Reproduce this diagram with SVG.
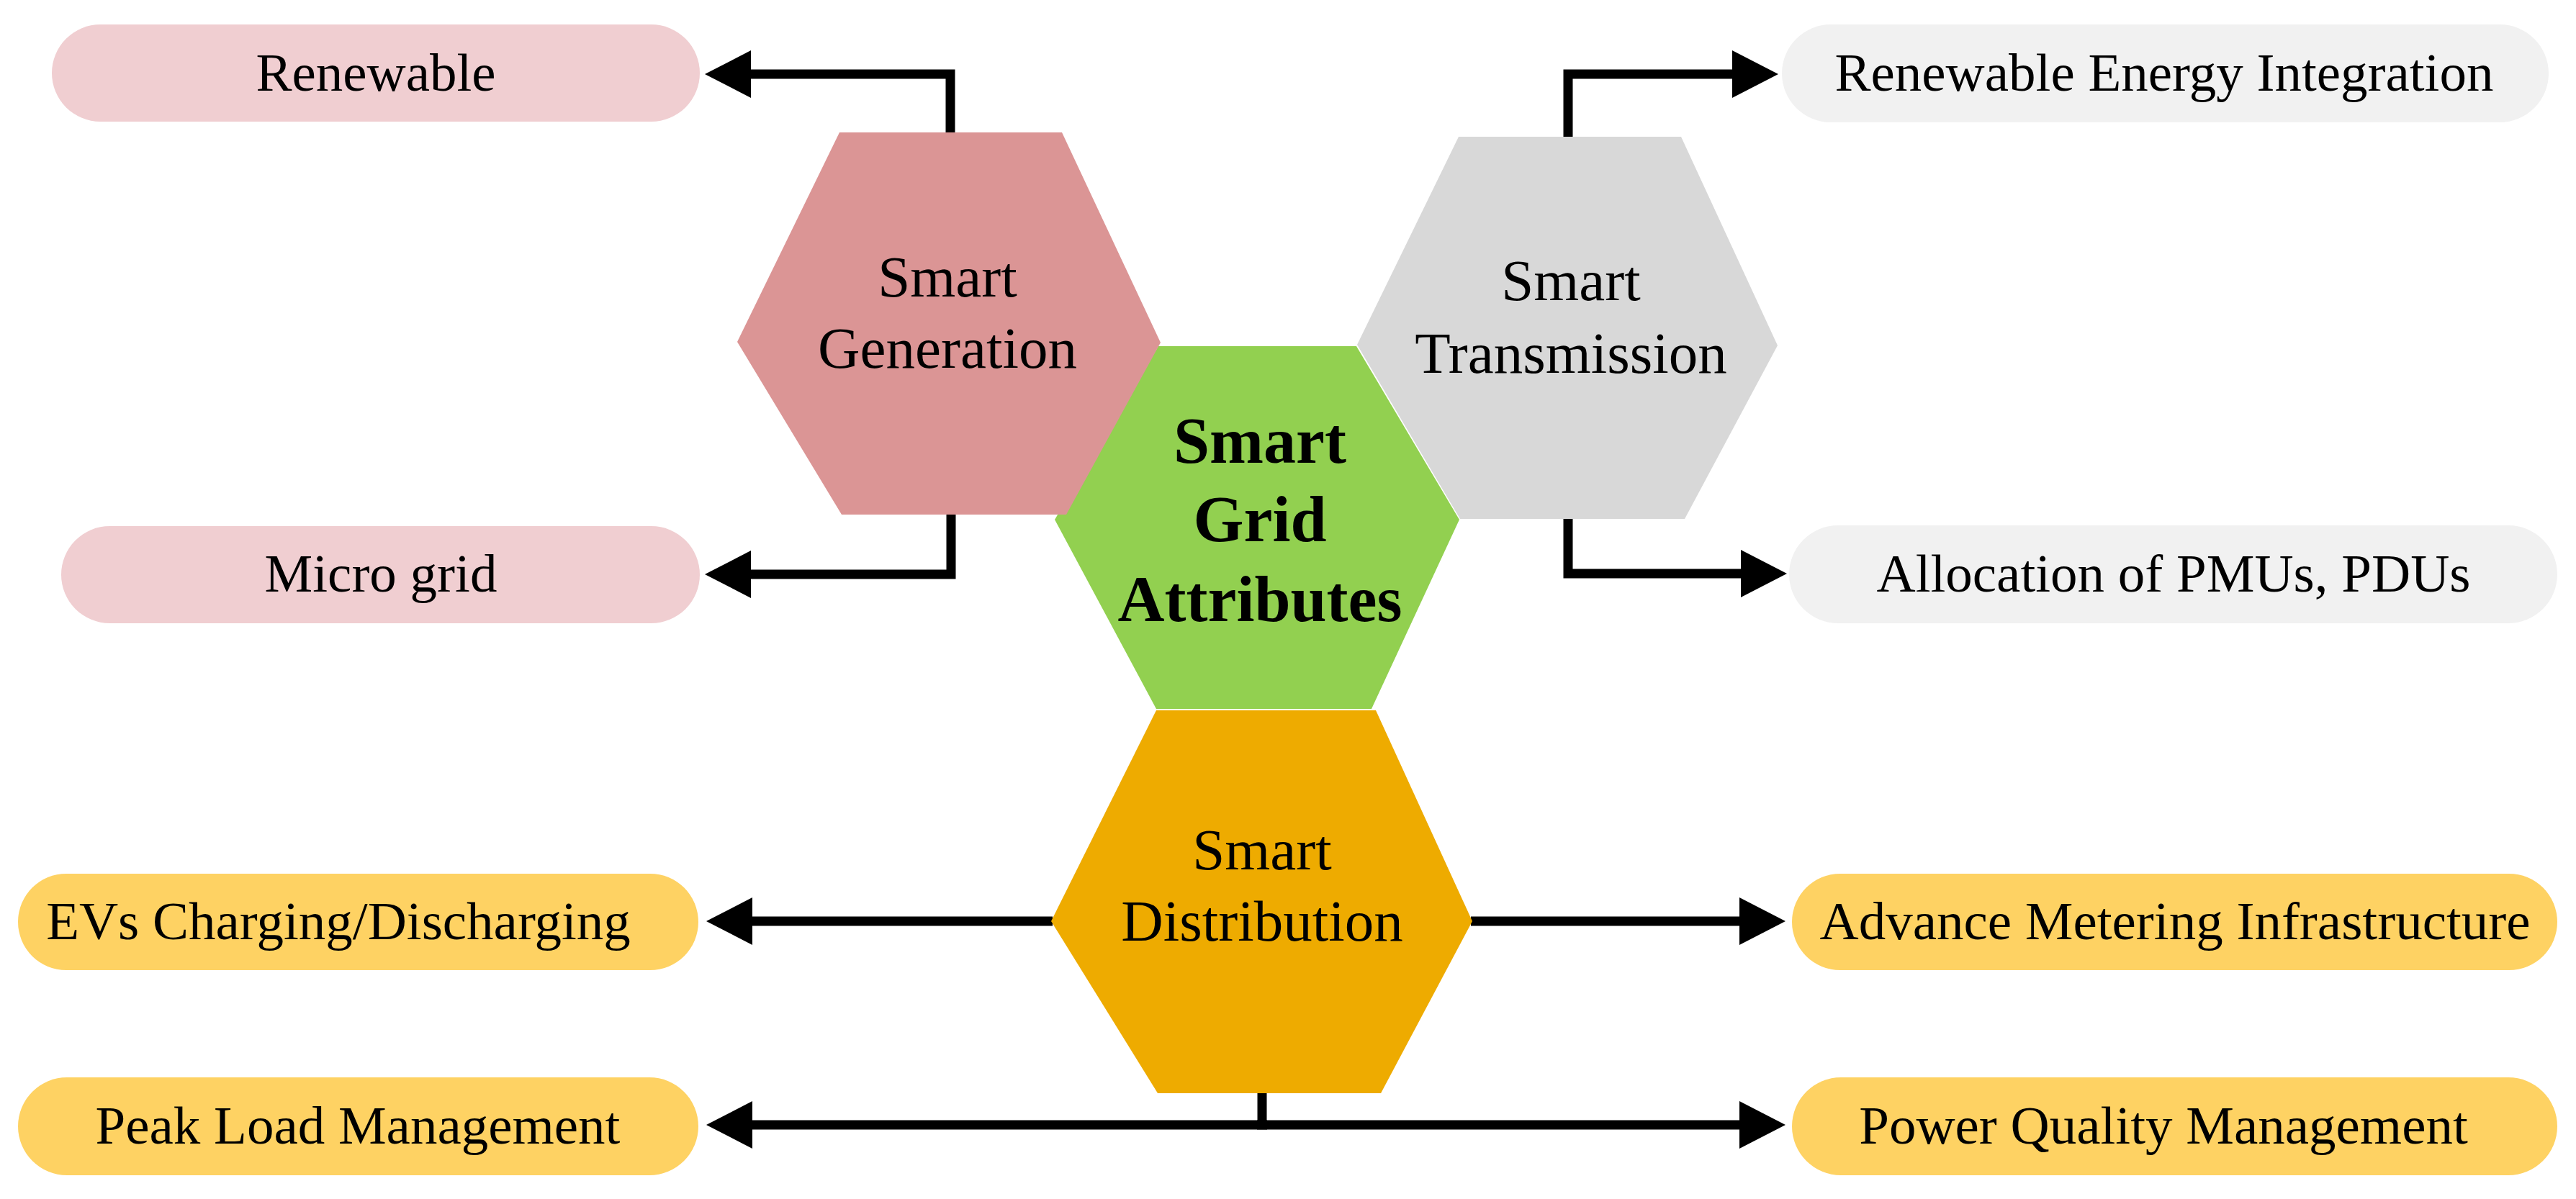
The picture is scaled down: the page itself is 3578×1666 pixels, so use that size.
<svg xmlns="http://www.w3.org/2000/svg" width="3578" height="1666" viewBox="0 0 3578 1666">
<defs>
<style>
.pill-pink{fill:#F0CED1}
.pill-gray{fill:#F1F1F1}
.pill-yel{fill:#FED263}
.t{font-family:"Liberation Serif","Times New Roman",serif;font-size:75px;fill:#000;text-anchor:middle}
.h{font-family:"Liberation Serif","Times New Roman",serif;font-size:81px;fill:#000;text-anchor:middle}
.hb{font-family:"Liberation Serif","Times New Roman",serif;font-size:90px;font-weight:bold;fill:#000;text-anchor:middle}
.c{fill:none;stroke:#000;stroke-width:13;stroke-linejoin:miter;marker-end:url(#arr)}
.cn{fill:none;stroke:#000;stroke-width:13;stroke-linejoin:miter}
</style>
<marker id="arr" markerUnits="userSpaceOnUse" markerWidth="64" markerHeight="66" viewBox="0 0 64 66" refX="20" refY="33" orient="auto">
<path d="M0,0 L64,33 L0,66 Z" fill="#000"/>
</marker>
</defs>
<rect width="3578" height="1666" fill="#FFFFFF"/>

<g id="connectors">
<path class="c" d="M1320,186 V103 H1023"/>
<path class="c" d="M1321,713 V798 H1023"/>
<path class="c" d="M2178,193 V103 H2426"/>
<path class="c" d="M2178,719 V797 H2438"/>
<path class="c" d="M1462,1280 H1025"/>
<path class="c" d="M2043,1280 H2436"/>
<path class="cn" d="M1753,1517 V1563"/>
<path class="c" d="M1760,1563 H1025"/>
<path class="c" d="M1746,1563 H2436"/>
</g>

<g id="node-renewable">
<rect class="pill-pink" x="72" y="34" width="900" height="135" rx="67.5"/>
<text class="t" x="522" y="126">Renewable</text>
</g>
<g id="node-microgrid">
<rect class="pill-pink" x="85" y="731" width="887" height="135" rx="67.5"/>
<text class="t" x="529" y="822">Micro grid</text>
</g>
<g id="node-rei">
<rect class="pill-gray" x="2475" y="34" width="1065" height="136" rx="68"/>
<text class="t" x="3006" y="126">Renewable Energy Integration</text>
</g>
<g id="node-pmu">
<rect class="pill-gray" x="2485" y="730" width="1067" height="136" rx="68"/>
<text class="t" x="3019" y="822">Allocation of PMUs, PDUs</text>
</g>
<g id="node-ev">
<rect class="pill-yel" x="25" y="1214" width="945" height="134" rx="67"/>
<text class="t" x="470" y="1305">EVs Charging/Discharging</text>
</g>
<g id="node-peak">
<rect class="pill-yel" x="25" y="1497" width="945" height="136" rx="68"/>
<text class="t" x="497" y="1589">Peak Load Management</text>
</g>
<g id="node-ami">
<rect class="pill-yel" x="2489" y="1214" width="1063" height="134" rx="67"/>
<text class="t" x="3021" y="1305">Advance Metering Infrastructure</text>
</g>
<g id="node-pqm">
<rect class="pill-yel" x="2489" y="1497" width="1063" height="136" rx="68"/>
<text class="t" x="3005" y="1589">Power Quality Management</text>
</g>

<g id="node-attributes">
<polygon fill="#92D050" points="1609,481 1884,481 2027,722 1905,985 1606,985 1465,722"/>
<text class="hb" x="1750" y="643">Smart</text>
<text class="hb" x="1750" y="752">Grid</text>
<text class="hb" x="1750" y="863">Attributes</text>
</g>
<g id="node-generation">
<polygon fill="#DB9595" points="1166,184 1475,184 1612,476 1481,715 1169,715 1024,475"/>
<text class="h" x="1316" y="412">Smart</text>
<text class="h" x="1316" y="511">Generation</text>
</g>
<g id="node-transmission">
<polygon fill="#D8D8D8" points="2026,190 2335,190 2469,480 2340,721 2028,721 1885,479"/>
<text class="h" x="2182" y="417">Smart</text>
<text class="h" x="2182" y="518">Transmission</text>
</g>
<g id="node-distribution">
<polygon fill="#EEAB00" points="1606,987 1911,987 2045,1280 1918,1519 1608,1519 1460,1280"/>
<text class="h" x="1753" y="1208">Smart</text>
<text class="h" x="1753" y="1307">Distribution</text>
</g>
</svg>
